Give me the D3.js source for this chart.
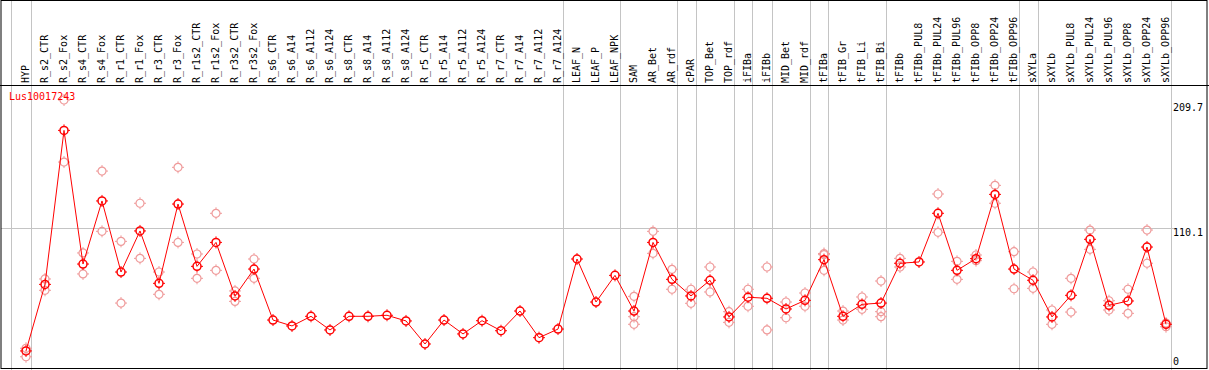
<!DOCTYPE html>
<html>
<head>
<meta charset="utf-8">
<script src="https://cdn.jsdelivr.net/npm/d3@7"></script>
<style>
  body { margin: 0; background: #fff; }
  svg { display: block; }
  text { font-family: 'DejaVu Sans Mono', monospace; font-size: 10px; }
</style>
</head>
<body>
<svg width="1209" height="370"></svg>
<script>
const geneName = 'Lus10017243'

const samples = ['HYP', 'R_s2_CTR', 'R_s2_Fox', 'R_s4_CTR', 'R_s4_Fox', 'R_r1_CTR', 'R_r1_Fox',
  'R_r3_CTR', 'R_r3_Fox', 'R_r1s2_CTR', 'R_r1s2_Fox', 'R_r3s2_CTR', 'R_r3s2_Fox', 'R_s6_CTR',
  'R_s6_A14', 'R_s6_A112', 'R_s6_A124', 'R_s8_CTR', 'R_s8_A14', 'R_s8_A112', 'R_s8_A124',
  'R_r5_CTR', 'R_r5_A14', 'R_r5_A112', 'R_r5_A124', 'R_r7_CTR', 'R_r7_A14', 'R_r7_A112',
  'R_r7_A124', 'LEAF_N', 'LEAF_P', 'LEAF_NPK', 'SAM', 'AR_Bet', 'AR_rdf', 'cPAR', 'TOP_Bet',
  'TOP_rdf', 'iFIBa', 'iFIBb', 'MID_Bet', 'MID_rdf', 'tFIBa', 'tFIB_Gr', 'tFIB_Li', 'tFIB_Bi',
  'tFIBb', 'tFIBb_PUL8', 'tFIBb_PUL24', 'tFIBb_PUL96', 'tFIBb_OPP8', 'tFIBb_OPP24', 'tFIBb_OPP96',
  'sXYLa', 'sXYLb', 'sXYLb_PUL8', 'sXYLb_PUL24', 'sXYLb_PUL96', 'sXYLb_OPP8', 'sXYLb_OPP24',
  'sXYLb_OPP96']

// mean expression per sample
const means = [14.8, 66.5, 186.1, 82.3, 131.3, 76.1, 108.0, 67.3, 128.9, 80.5, 99.1, 57.5, 78.4,
  38.8, 34.2, 41.7, 31.1, 41.7, 41.7, 42.5, 38.1, 20.2, 38.8, 28.0, 38.3, 30.5, 45.8, 25.1, 31.8,
  86.2, 52.8, 73.5, 45.8, 99.1, 70.4, 57.5, 69.7, 41.2, 56.5, 55.7, 47.4, 54.1, 85.7, 41.7, 51.0,
  52.0, 82.9, 83.9, 121.7, 77.4, 86.5, 136.4, 78.4, 69.7, 41.2, 58.0, 101.5, 50.2, 53.6, 95.5, 35.5]

// individual replicates (empty where they sit under the mean)
const replicates = [
  [16.9, 10.3], [70.7, 61.9], [209.7, 161.5], [90.9, 74.6], [154.5, 107.7], [99.9, 52.0],
  [129.5, 86.7], [76.1, 58.8], [157.4, 99.1], [90.1, 71.2], [121.7, 77.4], [61.4, 53.3],
  [86.2, 71.2], [], [], [], [], [], [], [], [], [], [], [], [], [], [], [], [], [], [], [],
  [57.2, 41.4, 35.5], [107.7, 90.6], [78.2, 62.7], [62.7, 51.8], [80.0, 60.6], [45.3, 37.0],
  [62.7, 49.5], [80.0, 31.1], [52.8, 40.6], [59.8, 49.5], [90.5, 89.6, 77.4], [45.8, 38.8],
  [56.7, 47.1], [69.1, 45.3, 41.4], [86.7, 80.0], [], [136.7, 106.9], [84.4, 70.4],
  [89.3, 84.9], [143.4, 129.5], [91.9, 63.1], [76.1, 63.4], [46.6, 35.5], [71.2, 45.0],
  [108.7, 93.7], [53.8, 46.6], [62.7, 44.0], [108.7, 82.9], [33.6, 36.5]]

// samples after which a group divider is drawn
const groupEnds = ['HYP', 'R_r7_A124', 'LEAF_NPK', 'AR_rdf', 'cPAR', 'TOP_rdf', 'iFIBa', 'iFIBb',
  'MID_rdf', 'tFIBa', 'tFIB_Bi', 'tFIBb_OPP96', 'sXYLa', 'sXYLb_OPP96']

const yMax = 209.7
const yMid = 110.1

const svg = d3.select('svg')
const W = 1209
const H = 370
const headerY = 85.5

const x = d3.scaleLinear().domain([0, samples.length - 1]).range([26, 1166])
const y = d3.scaleLinear().domain([0, yMax]).range([370, 100])

const grey = '#c4c4c4'
const red = '#ff0000'
const pale = '#ef9a9a'

// dividers
const dividerX = [x(-1) + 4.5].concat(groupEnds.map(s => x(samples.indexOf(s)) + 4.5))
svg.append('g').selectAll('line')
  .data(dividerX)
  .enter().append('line')
  .attr('x1', d => Math.round(d) + 0.5).attr('x2', d => Math.round(d) + 0.5)
  .attr('y1', 0).attr('y2', H)
  .attr('stroke', grey)

// mid gridline
svg.append('line')
  .attr('x1', 1).attr('x2', 1176)
  .attr('y1', Math.round(y(yMid)) + 0.5).attr('y2', Math.round(y(yMid)) + 0.5)
  .attr('stroke', grey)

// frame
svg.append('rect')
  .attr('x', 1).attr('y', 0.5).attr('width', 1206).attr('height', 368)
  .attr('fill', 'none').attr('stroke', '#000')
svg.append('line')
  .attr('x1', 0).attr('x2', W).attr('y1', headerY).attr('y2', headerY)
  .attr('stroke', '#000')

// sample labels
svg.append('g').selectAll('text')
  .data(samples)
  .enter().append('text')
  .attr('transform', (d, i) => 'translate(' + (x(i) - 0.5) + ',83) rotate(-90)')
  .attr('dy', '0.35em')
  .attr('fill', '#000')
  .text(d => d)

// axis labels
const axisLabels = [{v: yMax, py: 111}, {v: yMid, py: 236}, {v: 0, py: 365}]
svg.append('g').selectAll('text')
  .data(axisLabels)
  .enter().append('text')
  .attr('x', 1173)
  .attr('y', d => d.py)
  .attr('fill', '#000')
  .text(d => d.v === 0 ? '0' : d.v.toFixed(1))

function marker (g, color, width) {
  g.append('circle').attr('r', 4).attr('fill', 'none')
    .attr('stroke', color).attr('stroke-width', width)
  g.append('path')
    .attr('d', 'M0,-6V-4M0,4V6M-6,0H-4M4,0H6')
    .attr('stroke', color).attr('stroke-width', 1)
}

// replicate points
const reps = []
replicates.forEach((r, i) => r.forEach(v => reps.push({i, v})))
svg.append('g').selectAll('g')
  .data(reps)
  .enter().append('g')
  .attr('transform', d => 'translate(' + x(d.i) + ',' + y(d.v) + ')')
  .each(function () { marker(d3.select(this), pale, 1.2) })

// mean line
const line = d3.line().x((d, i) => x(i)).y(d => y(d))
svg.append('path')
  .attr('d', line(means))
  .attr('fill', 'none')
  .attr('stroke', red)
  .attr('stroke-width', 1)

svg.append('g').selectAll('g')
  .data(means)
  .enter().append('g')
  .attr('transform', (d, i) => 'translate(' + x(i) + ',' + y(d) + ')')
  .each(function () { marker(d3.select(this), red, 1.5) })

// gene name
svg.append('text')
  .attr('x', 9)
  .attr('y', 100)
  .attr('fill', red)
  .text(geneName)
</script>
</body>
</html>
